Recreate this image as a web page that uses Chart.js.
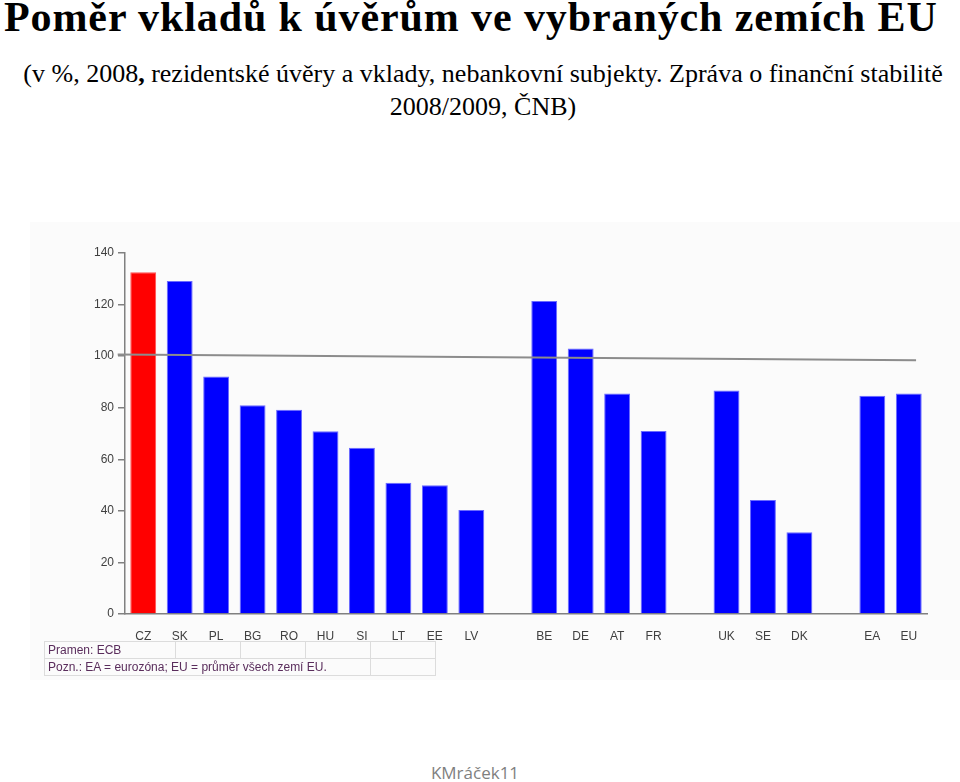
<!DOCTYPE html>
<html>
<head>
<meta charset="utf-8">
<script src="https://cdn.jsdelivr.net/npm/chart.js@4/dist/chart.umd.min.js"></script>
<style>
  html, body { margin: 0; padding: 0; background: #fff; }
  body { width: 960px; height: 782px; position: relative; overflow: hidden; }
  #title { position: absolute; left: 4px; top: -7px; font: bold 42px "Liberation Serif", "Times New Roman", serif; letter-spacing: 0.9px; color: #000; white-space: nowrap; }
  #sub { position: absolute; left: 0; top: 57px; width: 966px; text-align: center; font: 26px/33px "Liberation Serif", "Times New Roman", serif; color: #000; white-space: nowrap; }
  #pic { position: absolute; left: 30px; top: 222px; width: 930px; height: 458px; background: #fbfbfb; }
  #wrap { position: absolute; left: 30px; top: 225px; width: 930px; height: 455px; }
  #note { position: absolute; left: 44px; top: 641px; border-collapse: collapse; font: 12px "Liberation Sans", Arial, sans-serif; color: #5a2d5c; }
  #note td { border: 1px solid #dcdcdc; height: 16px; padding: 0 3px; white-space: nowrap; }
  #foot { position: absolute; left: 0; top: 761px; width: 950px; text-align: center; font: 17px "Open Sans", "Liberation Sans", sans-serif; color: #7f7f7f; }
</style>
</head>
<body>
<div id="title">Poměr vkladů k úvěrům ve vybraných zemích EU</div>
<div id="sub">(v %, 2008<b>,</b> rezidentské úvěry a vklady, nebankovní subjekty. Zpráva o finanční stabilitě<br>2008/2009, ČNB)</div>
<div id="pic"></div>
<div id="wrap"><canvas id="c"></canvas></div>
<table id="note">
  <tr><td style="width:124px">Pramen: ECB</td><td style="width:58px"></td><td style="width:58px"></td><td style="width:58px"></td><td style="width:58px"></td></tr>
  <tr><td colspan="4">Pozn.: EA = eurozóna; EU = průměr všech zemí EU.</td><td></td></tr>
</table>
<div id="foot">KMráček11</div>
<script>
// zeme (prazdne retezce = mezery mezi skupinami)
const countries = ['CZ','SK','PL','BG','RO','HU','SI','LT','EE','LV','','BE','DE','AT','FR','','UK','SE','DK','','EA','EU'];
const ratios = [132.5,129.1,92.1,81.0,79.2,70.9,64.5,50.9,49.9,40.3,null,121.4,103.0,85.5,71.0,null,86.7,44.2,31.7,null,84.6,85.5];
const yTicks = [0,20,40,60,80,100,120,140];
// seda cara (zacatek a konec)
const linePos = [-0.2, 21.7];
const lineVals = [100.6, 98.4];

const barColors = countries.map(c => c === 'CZ' ? '#ff0000' : '#0000ff');
const barBorders = countries.map(c => c === 'CZ' ? '#ff5050' : '#6a6aff');

new Chart(document.getElementById('c'), {
  type: 'bar',
  data: {
    labels: countries,
    datasets: [
      {
        type: 'line',
        data: linePos.map((x, i) => ({ x: x, y: lineVals[i] })),
        xAxisID: 'x2',
        borderColor: '#8c8c8c',
        borderWidth: 2,
        pointRadius: 0,
        clip: false,
        order: 0
      },
      {
        type: 'bar',
        data: ratios,
        xAxisID: 'x',
        backgroundColor: barColors,
        borderColor: barBorders,
        borderWidth: 1,
        grouped: false,
        barPercentage: 0.71,
        categoryPercentage: 1,
        order: 1
      }
    ]
  },
  options: {
    responsive: true,
    maintainAspectRatio: false,
    animation: false,
    layout: { padding: { top: 28, right: 33, bottom: 0, left: 0 } },
    plugins: { legend: { display: false }, tooltip: { enabled: false } },
    scales: {
      x: {
        type: 'category',
        offset: true,
        grid: { display: false, drawTicks: false },
        border: { color: '#808080', width: 1.5 },
        ticks: { color: '#404040', font: { family: 'Liberation Sans', size: 12 }, padding: 15, autoSkip: false, maxRotation: 0 },
        afterFit: s => { s.height = 66; }
      },
      x2: {
        type: 'linear',
        display: false,
        offset: false,
        grid: { offset: false },
        min: 0,
        max: countries.length
      },
      y: {
        min: 0,
        max: 140,
        afterBuildTicks: s => { s.ticks = yTicks.map(v => ({ value: v })); },
        grid: { drawOnChartArea: false, drawTicks: true, tickLength: 7, color: '#808080', lineWidth: 1.5 },
        border: { color: '#808080', width: 1.5 },
        ticks: { color: '#404040', font: { family: 'Liberation Sans', size: 12 }, padding: 4 },
        afterFit: s => { s.width = 95; }
      }
    }
  }
});
</script>
</body>
</html>
